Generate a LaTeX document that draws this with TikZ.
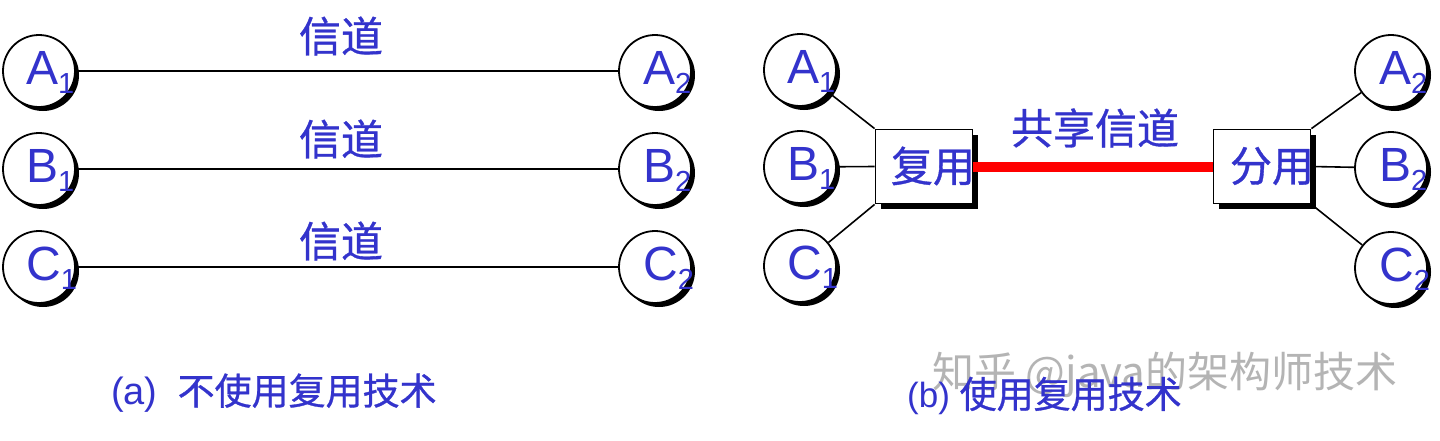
\documentclass[tikz,border=0pt]{standalone}
\usepackage{fontspec}
\setmainfont{Liberation Sans}
\newfontfamily\cjk{Noto Sans CJK SC}[FakeBold=0.8]
\newfontfamily\cjkthin{Noto Sans CJK SC}
\usetikzlibrary{shadows}
\definecolor{txtblue}{HTML}{3333CC}
\definecolor{wmgray}{HTML}{B4B4B4}
\newcommand\stlab[2]{#1\raisebox{-9pt}{\fontsize{29}{29}\selectfont #2}}
\begin{document}
\begin{tikzpicture}[x=1pt,y=-1pt,
  station/.style={circle, draw=black, line width=1.8pt, fill=white, minimum size=72pt, inner sep=0pt,
    drop shadow={shadow xshift=4pt, shadow yshift=-4pt, fill=black, opacity=1}},
  muxbox/.style={rectangle, draw=black, line width=1.8pt, fill=white, minimum width=97pt, minimum height=74pt, inner sep=0pt,
    drop shadow={shadow xshift=5pt, shadow yshift=-5pt, fill=black, opacity=1}},
  stlabel/.style={text=txtblue, font=\fontsize{48}{48}\selectfont, inner sep=0pt, anchor=base west},
  cjklabel/.style={text=txtblue, font=\cjk\fontsize{42}{42}\selectfont, inner sep=0pt},
  caption/.style={text=txtblue, inner sep=0pt, anchor=west},
  conn/.style={draw=black, line width=1.6pt},
  shared/.style={draw=red, line width=10pt}
]
\useasboundingbox[fill=white] (0,0) rectangle (1440,440);

% ---------- (a) ----------
\node[station] (la1) at (39,71) {};
\node[station] (lb1) at (39,169) {};
\node[station] (lc1) at (39,267) {};
\node[station] (la2) at (655,71) {};
\node[station] (lb2) at (655,169) {};
\node[station] (lc2) at (655,267) {};
\draw[conn] (la1) -- (la2);
\draw[conn] (lb1) -- (lb2);
\draw[conn] (lc1) -- (lc2);
\node[stlabel] (tla1) at (26,84) {\stlab{A}{1}};
\node[stlabel] (tlb1) at (26,182) {\stlab{B}{1}};
\node[stlabel] (tlc1) at (26,280) {\stlab{C}{1}};
\node[stlabel] (tla2) at (643,84) {\stlab{A}{2}};
\node[stlabel] (tlb2) at (643,182) {\stlab{B}{2}};
\node[stlabel] (tlc2) at (643,280) {\stlab{C}{2}};
\node[cjklabel] (ch1) at (341,36) {信道};
\node[cjklabel] (ch2) at (341,139) {信道};
\node[cjklabel] (ch3) at (341,241) {信道};

% ---------- (b) ----------
\node[station] (ra1) at (800,70) {};
\node[station] (rb1) at (800,167) {};
\node[station] (rc1) at (800,266) {};
\node[station] (ra2) at (1391,71) {};
\node[station] (rb2) at (1391,168) {};
\node[station] (rc2) at (1391,268) {};
\node[muxbox] (mux) at (924,166.5) {};
\node[muxbox] (demux) at (1262,166.5) {};
\draw[conn] (ra1) -- (mux.north west);
\draw[conn] (rb1) -- (mux.west);
\draw[conn] (rc1) -- (mux.south west);
\draw[conn] (demux.north east) -- (ra2);
\draw[conn] (demux.east) -- (rb2);
\draw[conn] (demux.south east) -- (rc2);
\draw[shared] (mux.east) -- (demux.west);
\node[stlabel] (tra1) at (787,83) {\stlab{A}{1}};
\node[stlabel] (trb1) at (787,180) {\stlab{B}{1}};
\node[stlabel] (trc1) at (787,279) {\stlab{C}{1}};
\node[stlabel] (tra2) at (1379,84) {\stlab{A}{2}};
\node[stlabel] (trb2) at (1379,181) {\stlab{B}{2}};
\node[stlabel] (trc2) at (1379,281) {\stlab{C}{2}};
\node[cjklabel] (tmux) at (933,166) {复用};
\node[cjklabel] (tdemux) at (1272,166) {分用};
\node[cjklabel] (tshared) at (1095,128) {共享信道};

% ---------- captions ----------
\node[text=wmgray, inner sep=0pt, font=\cjkthin\fontsize{42}{42}\selectfont] (wm) at (1165,375) {知乎 @java的架构师技术};
\node[caption, font=\fontsize{38}{38}\selectfont] (capa) at (111,393) {(a)\hspace{20pt}{\cjk\fontsize{37}{37}\selectfont 不使用复用技术}};
\node[caption, font=\fontsize{35}{35}\selectfont] (capb) at (907,396) {(b) {\cjk\fontsize{37}{37}\selectfont 使用复用技术}};
\end{tikzpicture}
\end{document}
